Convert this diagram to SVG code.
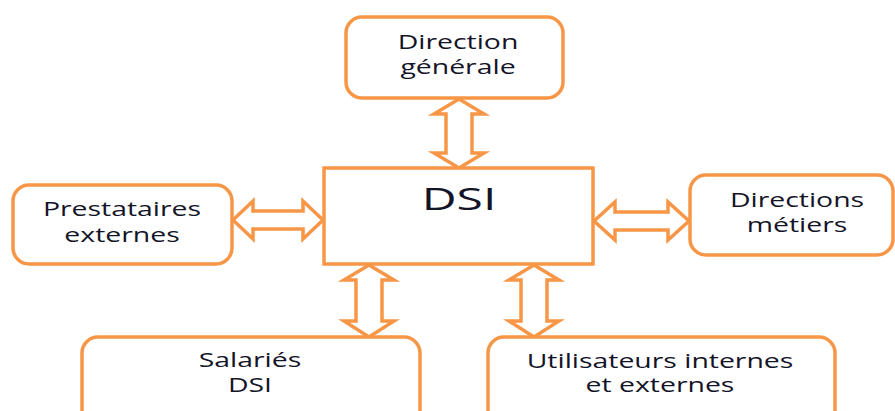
<svg xmlns="http://www.w3.org/2000/svg" width="895" height="411" viewBox="0 0 895 411">
<style>
.box{fill:#fff;stroke:#F79646;stroke-width:3.5}
.arr{fill:#fff;stroke:#F79646;stroke-width:3.5;stroke-linejoin:miter}
.t{font-family:"Open Sans","Liberation Sans",sans-serif;font-size:20px;fill:#141428;text-anchor:middle}
.big{font-size:31px}
</style>
<rect width="895" height="411" fill="#fff"/>
<g id="connectors">
<polygon class="arr" points="459,99 484,114 472,114 472,153 484,153 459,168 434,153 446,153 446,114 434,114"/>
<polygon class="arr" points="233,220 253,201 253,211 303,211 303,201 323,220 303,239 303,229 253,229 253,239"/>
<polygon class="arr" points="594,221 615,202 615,212 668,212 668,202 689,221 668,240 668,230 615,230 615,240"/>
<polygon class="arr" points="369,265 394,280 382,280 382,321 394,321 369,337 344,321 356,321 356,280 344,280"/>
<polygon class="arr" points="534,265 559,280 547,280 547,321 559,321 534,337 509,321 521,321 521,280 509,280"/>
</g>
<g id="dg">
<rect class="box" x="346" y="17" width="217" height="81" rx="16"/>
<text class="t" transform="matrix(1.42 0 0 1 458 49)">Direction</text>
<text class="t" transform="matrix(1.42 0 0 1 458 74)">générale</text>
</g>
<g id="dsi">
<rect class="box" x="324" y="168" width="269" height="96"/>
<text class="t big" transform="matrix(1.55 0 0 1 459 210)">DSI</text>
</g>
<g id="prestataires">
<rect class="box" x="13" y="185" width="219" height="79" rx="16"/>
<text class="t" transform="matrix(1.42 0 0 1 122 216)">Prestataires</text>
<text class="t" transform="matrix(1.42 0 0 1 122 242)">externes</text>
</g>
<g id="metiers">
<rect class="box" x="690" y="175" width="203" height="80" rx="16"/>
<text class="t" transform="matrix(1.42 0 0 1 797 207)">Directions</text>
<text class="t" transform="matrix(1.42 0 0 1 797 232)">métiers</text>
</g>
<g id="salaries">
<rect class="box" x="82" y="337" width="338" height="100" rx="16"/>
<text class="t" transform="matrix(1.42 0 0 1 250 367)">Salariés</text>
<text class="t" transform="matrix(1.42 0 0 1 250 392)">DSI</text>
</g>
<g id="utilisateurs">
<rect class="box" x="488" y="337" width="347" height="100" rx="16"/>
<text class="t" transform="matrix(1.42 0 0 1 660 368)">Utilisateurs internes</text>
<text class="t" transform="matrix(1.42 0 0 1 660 392)">et externes</text>
</g>
</svg>
